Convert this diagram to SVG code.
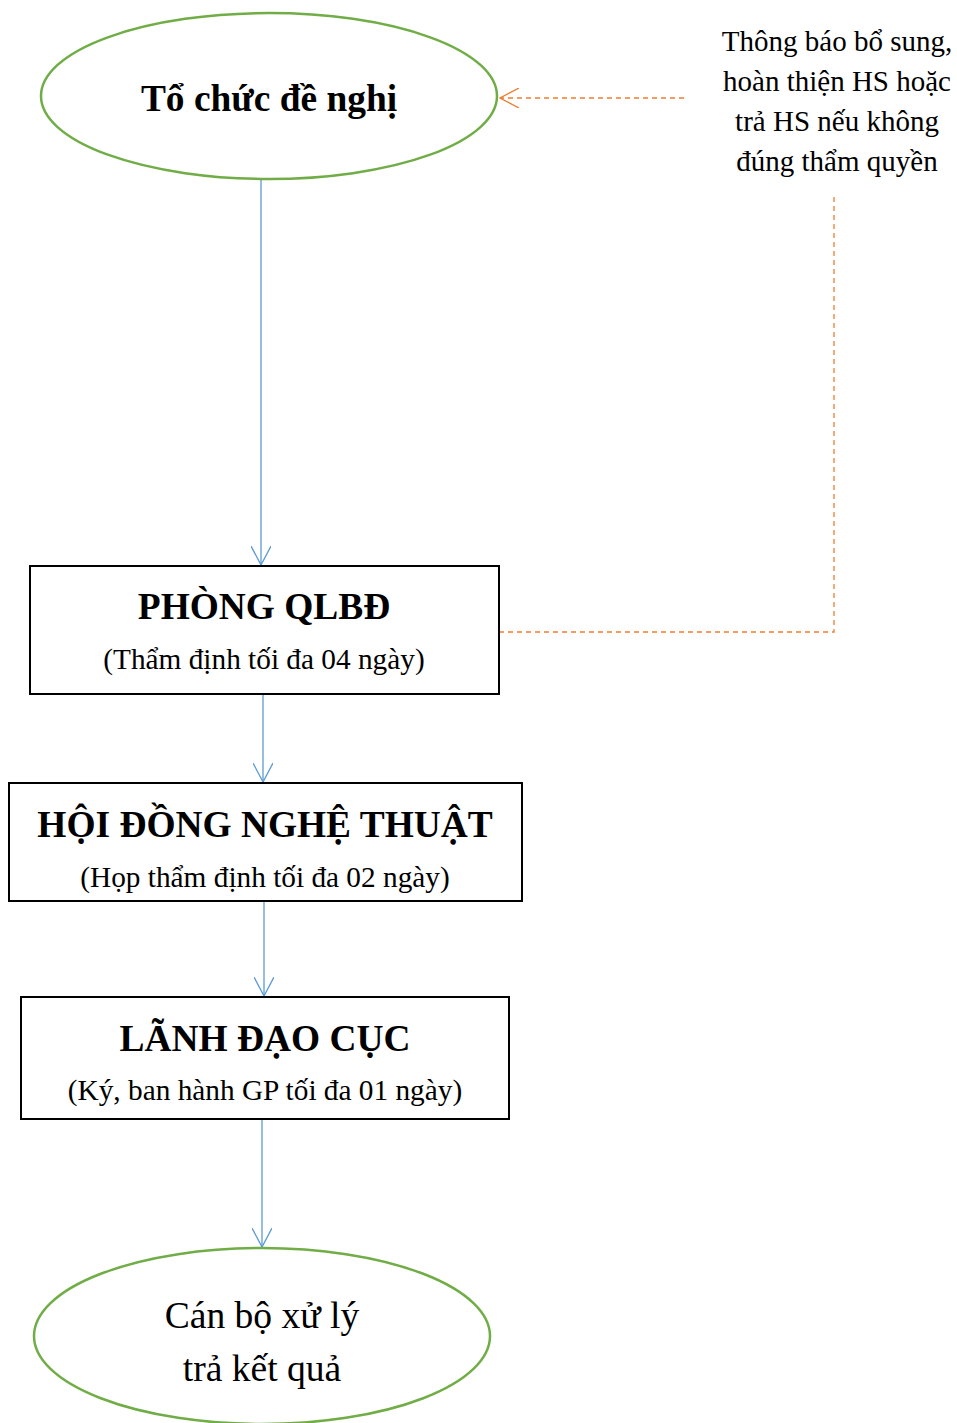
<svg xmlns="http://www.w3.org/2000/svg" width="957" height="1423" viewBox="0 0 957 1423">
  <style>
    .oval { fill: #ffffff; stroke: #70AD47; stroke-width: 2.5; }
    .box { fill: #ffffff; stroke: #000000; stroke-width: 2; }
    .t { font-family: "Liberation Serif", "Times New Roman", serif; fill: #000000; text-anchor: middle; }
    .title { font-size: 37.4px; font-weight: bold; }
    .sub { font-size: 29.3px; }
    .big { font-size: 37.6px; }
    .note { font-size: 29px; }
    .flow { fill: none; stroke: #5B9BD5; stroke-width: 1.3; }
    .back { fill: none; stroke: #ED7D31; stroke-width: 1.3; stroke-dasharray: 5 4; }
  </style>
  <defs>
    <marker id="arrBlue" viewBox="0 0 20 20" refX="19" refY="10" markerWidth="20" markerHeight="20" markerUnits="userSpaceOnUse" orient="auto">
      <path d="M0,0 L19,10 L0,20" fill="none" stroke="#5B9BD5" stroke-width="1.3"/>
    </marker>
    <marker id="arrOrange" viewBox="0 0 20 20" refX="19" refY="10" markerWidth="20" markerHeight="20" markerUnits="userSpaceOnUse" orient="auto">
      <path d="M0,0 L19,10 L0,20" fill="none" stroke="#ED7D31" stroke-width="1.3"/>
    </marker>
  </defs>

  <g id="connectors">
    <line class="flow" x1="261" y1="178" x2="261" y2="565" marker-end="url(#arrBlue)"/>
    <line class="flow" x1="263" y1="695" x2="263" y2="782" marker-end="url(#arrBlue)"/>
    <line class="flow" x1="264" y1="902" x2="264" y2="996" marker-end="url(#arrBlue)"/>
    <line class="flow" x1="262" y1="1120" x2="262" y2="1247" marker-end="url(#arrBlue)"/>
    <polyline class="back" points="499,632 834,632 834,197"/>
    <line class="back" x1="684" y1="98" x2="500" y2="98" marker-end="url(#arrOrange)"/>
  </g>

  <g id="node-to-chuc">
    <ellipse class="oval" cx="269" cy="96" rx="228" ry="83"/>
    <text class="t title" x="269" y="111">Tổ chức đề nghị</text>
  </g>

  <g id="node-note">
    <text class="t note" x="837" y="51">Thông báo bổ sung,</text>
    <text class="t note" x="837" y="91">hoàn thiện HS hoặc</text>
    <text class="t note" x="837" y="131">trả HS nếu không</text>
    <text class="t note" x="837" y="171">đúng thẩm quyền</text>
  </g>

  <g id="node-phong">
    <rect class="box" x="30" y="566" width="469" height="128"/>
    <text class="t title" x="264" y="619">PHÒNG QLBĐ</text>
    <text class="t sub" x="264" y="669">(Thẩm định tối đa 04 ngày)</text>
  </g>

  <g id="node-hoi-dong">
    <rect class="box" x="9" y="783" width="513" height="118"/>
    <text class="t title" x="265" y="837">HỘI ĐỒNG NGHỆ THUẬT</text>
    <text class="t sub" x="265" y="887">(Họp thẩm định tối đa 02 ngày)</text>
  </g>

  <g id="node-lanh-dao">
    <rect class="box" x="21" y="997" width="488" height="122"/>
    <text class="t title" x="265" y="1051">LÃNH ĐẠO CỤC</text>
    <text class="t sub" x="265" y="1100">(Ký, ban hành GP tối đa 01 ngày)</text>
  </g>

  <g id="node-can-bo">
    <ellipse class="oval" cx="262" cy="1336" rx="228" ry="88"/>
    <text class="t big" x="262" y="1328">Cán bộ xử lý</text>
    <text class="t big" x="262" y="1381">trả kết quả</text>
  </g>
</svg>
